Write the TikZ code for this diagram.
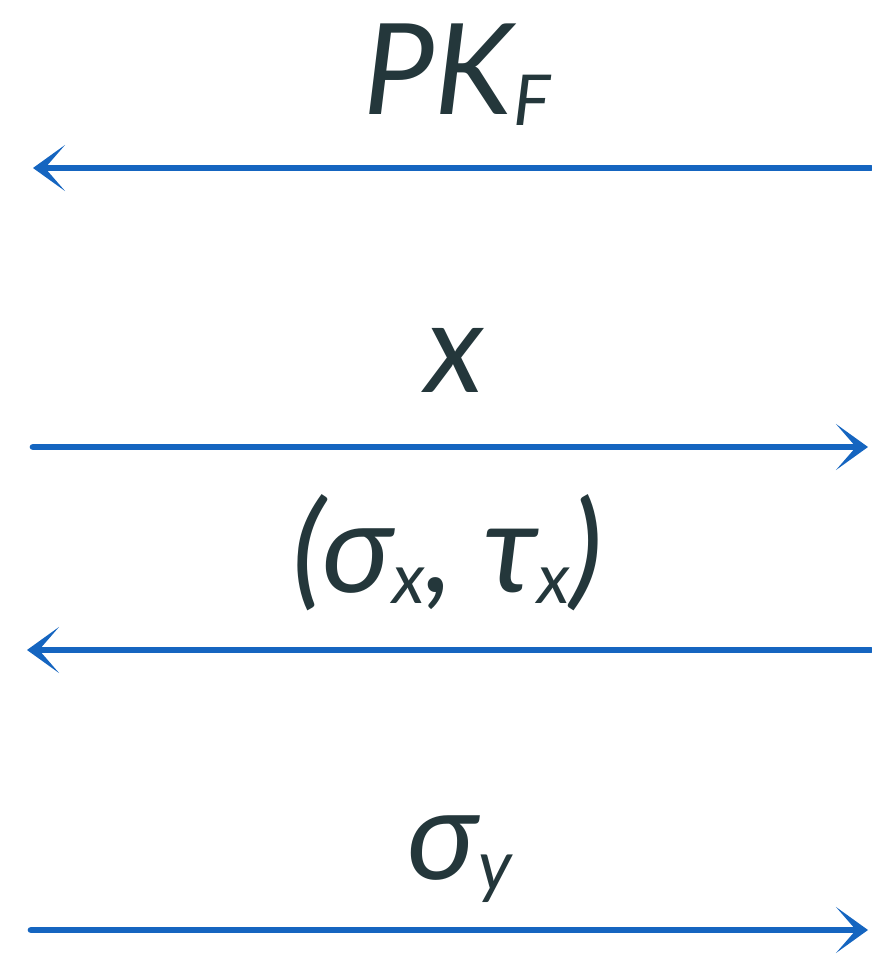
\documentclass[tikz,border=0pt]{standalone}
\usepackage{fontspec}
\setmainfont{Lato}
\usetikzlibrary{arrows.meta}
\definecolor{inkdark}{HTML}{24373B}
\definecolor{pathblue}{HTML}{1565C0}
\newcommand{\lowidx}[1]{\raisebox{-0.08em}{\fontsize{20}{20}\selectfont #1}}
\tikzset{
  msg/.style={draw=pathblue, line width=1.9pt, line cap=round,
    -{Stealth[length=3.2mm, width=4.6mm, inset=2mm]}},
  lbl/.style={text=inkdark, anchor=base, inner sep=0pt,
    font=\fontsize{36}{40}\selectfont\itshape}
}
\begin{document}
\begin{tikzpicture}
\useasboundingbox (0,0) rectangle (8.71,9.55);

% end points of the four messages
\coordinate (r1) at (8.71,7.87);
\coordinate (l1) at (0.33,7.87);
\coordinate (l2) at (0.33,5.08);
\coordinate (r2) at (8.68,5.08);
\coordinate (r3) at (8.71,3.05);
\coordinate (l3) at (0.27,3.05);
\coordinate (l4) at (0.31,0.25);
\coordinate (r4) at (8.68,0.25);

\draw[msg] (r1) -- (l1);
\draw[msg] (l2) -- (r2);
\draw[msg] (r3) -- (l3);
\draw[msg] (l4) -- (r4);

\node[lbl] (pk) at (4.57,8.40) {PK\lowidx{F}};
\node[lbl] (xval) at (4.55,5.62) {x};
\node[lbl] (sig) at (4.48,3.62) {(σ\lowidx{x}, τ\lowidx{x})};
\node[lbl] (sigy) at (4.60,0.75) {σ\lowidx{y}};
\end{tikzpicture}
\end{document}
